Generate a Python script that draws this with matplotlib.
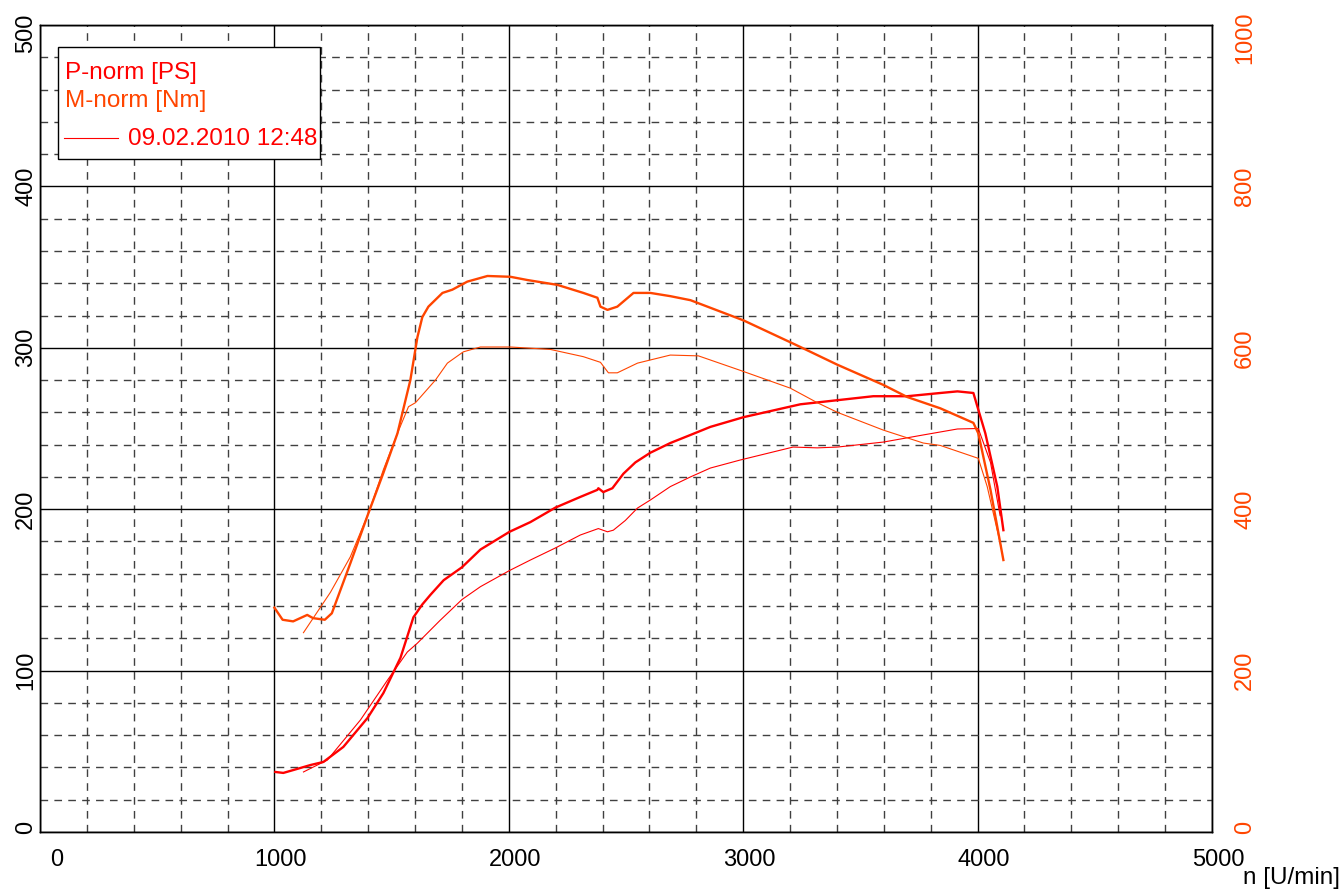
import matplotlib
matplotlib.use('Agg')
import matplotlib.pyplot as plt
from matplotlib.patches import Rectangle
from matplotlib.lines import Line2D
from matplotlib.transforms import ScaledTranslation
from matplotlib.ticker import MultipleLocator

plt.rcParams['font.family'] = ['Liberation Sans', 'DejaVu Sans']

# ---- data (rpm / PS / Nm)
p_thick_rpm = [1004, 1038, 1081, 1154, 1209, 1294, 1397, 1465, 1538, 1593, 1631, 1666,
               1722, 1800, 1879, 2003, 2092, 2199, 2305, 2378, 2382, 2403, 2442, 2489,
               2540, 2604, 2689, 2775, 2860, 3001, 3244, 3555, 3700, 3841, 3914, 3982,
               4033, 4084, 4110]
p_thick = [37.2, 36.6, 38.4, 41.5, 43.4, 52.7, 70.6, 86.1, 108, 133, 141, 147,
           156, 164, 175, 186, 192, 201, 207.6, 212, 213, 210.6, 213, 222,
           229, 235, 241, 246, 251, 257, 265, 270, 270, 272, 273, 272,
           247, 214, 187]

p_thin_rpm = [1124, 1226, 1367, 1482, 1567, 1610, 1706, 1800, 1879, 2003, 2092, 2199,
              2305, 2382, 2421, 2446, 2497, 2549, 2604, 2689, 2775, 2860, 2988, 3213,
              3316, 3402, 3598, 3768, 3914, 4003, 4055, 4096]
p_thin = [37.2, 44.6, 69.4, 94, 111.5, 117, 131, 144, 152, 162, 168.5, 176,
          184, 188, 186, 187, 193, 200.7, 205.7, 214, 220, 225.5, 230.5, 238.5,
          238, 238.5, 241.6, 246, 249.7, 250, 229, 196]

m_thick_rpm = [1000, 1035, 1080, 1140, 1165, 1215, 1245, 1324, 1401, 1465, 1525, 1580,
               1610, 1631, 1657, 1717, 1759, 1823, 1909, 2007, 2079, 2207, 2318, 2378,
               2391, 2421, 2463, 2532, 2604, 2689, 2775, 3001, 3244, 3402, 3598, 3700,
               3841, 3982, 4003, 4055, 4110]
m_thick = [278, 263, 261, 269, 265, 263, 271, 333, 395, 445, 494, 560,
           613, 638, 651, 668, 672, 682, 689, 688, 684, 678, 668, 662,
           651, 647, 651, 668, 668, 664, 659, 634, 601, 579, 554, 539,
           525, 507, 494, 424, 337]

m_thin_rpm = [1124, 1239, 1324, 1401, 1465, 1525, 1572, 1602, 1687, 1738, 1806, 1879,
              2007, 2177, 2318, 2391, 2425, 2463, 2549, 2689, 2809, 2988, 3201, 3316,
              3402, 3598, 3768, 3841, 4003, 4041, 4101]
m_thin = [247, 297, 341, 395, 449, 494, 527, 532, 560, 581, 595, 601,
          601, 598, 589, 582, 569, 569, 581, 591, 590, 572, 550, 532,
          520, 498, 482, 479, 463, 428, 352]

x_ticks = [0, 1000, 2000, 3000, 4000, 5000]
p_ticks = [0, 100, 200, 300, 400, 500]
m_ticks = [0, 200, 400, 600, 800, 1000]

RED = '#ff0000'
ORANGE = '#ff4500'
W, H = 1341, 890

fig = plt.figure(figsize=(W / 100, H / 100), dpi=100)
ax = fig.add_axes([40 / W, 1 - 832 / H, 1172 / W, 807 / H])
ax2 = ax.twinx()

ax.set_xlim(0, 5000)
ax.set_ylim(0, 500)
ax2.set_ylim(0, 1000)

ax.set_xticks(x_ticks)
ax.set_xticklabels([str(v) for v in x_ticks], fontsize=17)
ax.xaxis.set_minor_locator(MultipleLocator(200))
ax.set_yticks(p_ticks)
ax.set_yticklabels([str(v) for v in p_ticks], fontsize=17, rotation=90, va='center')
ax.yaxis.set_minor_locator(MultipleLocator(20))
ax2.set_yticks(m_ticks)
ax2.set_yticklabels([str(v) for v in m_ticks], fontsize=17, rotation=90,
                    va='center', color=ORANGE)

ax.tick_params(axis='x', which='both', length=0, pad=12)
ax.tick_params(axis='y', which='both', length=0, pad=2)
ax2.tick_params(axis='y', which='both', length=0, pad=16)

# grid: solid majors, dashed minors
ax.grid(which='major', color='black', lw=1, ls='-')
ax.grid(which='minor', color='#404040', lw=1.0, ls=(0, (5.5, 4.5)))
ax.set_axisbelow(True)
for a in (ax, ax2):
    for s in a.spines.values():
        s.set_linewidth(1)
        s.set_color('black')

# nudge a few tick labels like the original
def shift(lbl, dx, dy):
    lbl.set_transform(lbl.get_transform() + ScaledTranslation(dx / 100, dy / 100, fig.dpi_scale_trans))

xl = ax.get_xticklabels()
for lbl in xl:
    shift(lbl, 6, 0)
shift(xl[0], 11, 0)
yl = ax.get_yticklabels()
shift(yl[0], 0, 5)
shift(yl[-1], 0, -8)
yr = ax2.get_yticklabels()
shift(yr[0], 0, 5)
shift(yr[-1], 0, -13)

# curves
ax.plot(p_thick_rpm, p_thick, color=RED, lw=1.7, solid_joinstyle='round')
ax.plot(p_thin_rpm, p_thin, color=RED, lw=0.8)
ax2.plot(m_thick_rpm, m_thick, color=ORANGE, lw=1.7, solid_joinstyle='round')
ax2.plot(m_thin_rpm, m_thin, color=ORANGE, lw=0.8)

# axis caption
fig.text(1340 / W, 1 - 878 / H, 'n [U/min]', ha='right', va='center', fontsize=17.5)

# legend box drawn by hand
fig.patches.append(Rectangle((58 / W, 1 - 159 / H), 262 / W, 112 / H,
                             transform=fig.transFigure, facecolor='white',
                             edgecolor='black', lw=1, zorder=5))
fig.text(65 / W, 1 - 73 / H, 'P-norm [PS]', color=RED, fontsize=17.5, va='center', zorder=6)
fig.text(65 / W, 1 - 101 / H, 'M-norm [Nm]', color=ORANGE, fontsize=17.5, va='center', zorder=6)
fig.lines.append(Line2D([64 / W, 118 / W], [1 - 138 / H, 1 - 138 / H],
                        transform=fig.transFigure, color=RED, lw=0.8, zorder=6))
fig.text(128 / W, 1 - 139 / H, '09.02.2010 12:48', color=RED, fontsize=17.5, va='center', zorder=6)

fig.savefig('out.png', dpi=100)
